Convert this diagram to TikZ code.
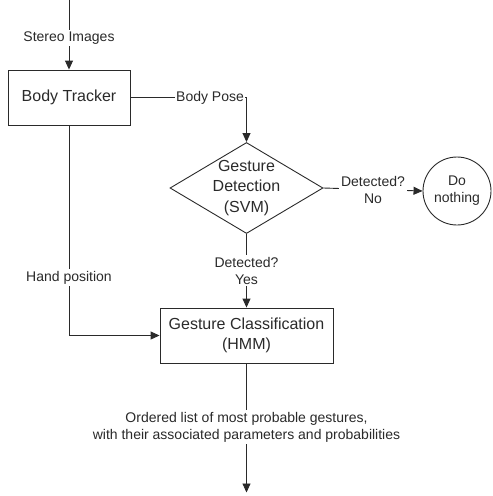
\documentclass[tikz,border=0pt]{standalone}
\usepackage{fontspec}
\setmainfont{Liberation Sans}
\usetikzlibrary{arrows.meta,shapes.geometric}
\definecolor{fg}{HTML}{2A2A2A}
\begin{document}
\begin{tikzpicture}[x=1pt,y=-1pt,
  every node/.style={text=fg},
  line/.style={draw=fg, line width=0.9pt},
  arr/.style={line, -{Triangle[length=9pt,width=8pt]}},
  boxtext/.style={font=\fontsize{16}{20.5}\selectfont, align=center},
  lbl/.style={font=\fontsize{14}{17}\selectfont, align=center, fill=white, inner sep=2pt},
  procbox/.style={draw=fg, line width=0.9pt, rectangle, inner sep=0pt, boxtext}
]
\useasboundingbox (0,0) rectangle (493,496);
\node[procbox, minimum width=122pt, minimum height=55pt] (bt) at (69,97.5) {Body Tracker};
\node[draw=fg, line width=0.9pt, diamond, inner sep=0pt, minimum width=153pt, minimum height=91pt] (gd) at (246.5,188) {};
\node[boxtext] (gdt) at (gd) {Gesture\\Detection\\(SVM)};
\node[draw=fg, line width=0.9pt, circle, inner sep=0pt, minimum size=68pt, font=\fontsize{14}{17}\selectfont, align=center] (dn) at (457,191) {Do\\nothing};
\node[procbox, minimum width=173pt, minimum height=55pt] (gc) at (246.5,335.5) {Gesture Classification\\(HMM)};
\coordinate (in) at (69,0);
\coordinate (out) at (246.5,492.5);
\draw[arr] (in) -- node[lbl, pos=0.545] {Stereo Images} (bt.north);
\draw[arr] (bt.east) -| node[lbl, pos=0.343, inner sep=1.5pt] {Body Pose} (gd.north);
\draw[arr] (gd.east) -- node[lbl] {Detected?\\No} (dn.west);
\draw[arr] (gd.south) -- node[lbl] {Detected?\\Yes} (gc.north);
\draw[arr] (bt.south) |- node[lbl, pos=0.363] {Hand position} (gc.west);
\draw[arr] (gc.south) -- node[lbl, pos=0.496] {Ordered list of most probable gestures,\\with their associated parameters and probabilities} (out);
\end{tikzpicture}
\end{document}
